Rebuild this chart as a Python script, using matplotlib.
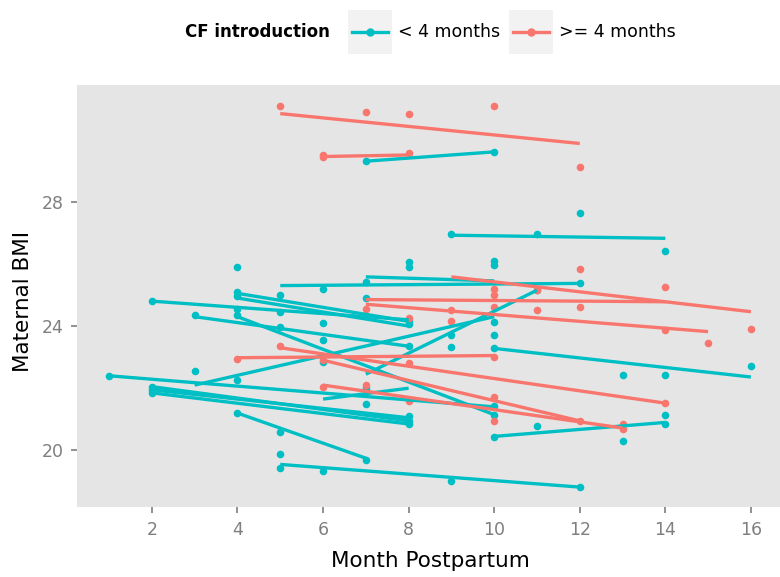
import matplotlib
matplotlib.use("Agg")
import matplotlib.pyplot as plt
from matplotlib.patches import Rectangle
from matplotlib.lines import Line2D

plt.rcParams['font.family'] = ['DejaVu Sans']

TEAL = '#00BFC4'
RED = '#F8766D'

# ---------------- data ----------------
group_labels = ['< 4 months', '>= 4 months']
legend_title = 'CF introduction'

# observed points (< 4 months)
teal_month = [1,
              2, 2, 2, 2,
              3, 3,
              4, 4, 4, 4, 4, 4, 4,
              5, 5, 5, 5, 5, 5,
              6, 6, 6, 6, 6,
              7, 7, 7, 7, 7, 7,
              8, 8, 8, 8, 8, 8, 8, 8,
              9, 9, 9, 9,
              10, 10, 10, 10, 10, 10, 10, 10, 10,
              11, 11, 11,
              12, 12, 12,
              13, 13,
              14, 14, 14, 14,
              16]
teal_bmi = [22.38,
            24.8, 22.05, 21.95, 21.85,
            24.35, 22.55,
            25.89, 25.1, 24.95, 24.55, 24.35, 22.27, 21.2,
            25.0, 24.45, 23.98, 20.6, 19.87, 19.45,
            25.2, 24.1, 23.55, 22.85, 19.33,
            29.3, 25.4, 24.9, 22.0, 21.5, 19.7,
            26.05, 25.9, 24.15, 24.05, 23.35, 21.1, 20.95, 20.85,
            26.95, 23.7, 23.34, 19.0,
            29.6, 26.1, 25.95, 24.14, 23.71, 23.28, 21.44, 21.15, 20.43,
            26.95, 25.15, 20.77,
            27.62, 25.37, 18.82,
            22.43, 20.3,
            26.4, 22.43, 21.13, 20.86,
            22.73]

# observed points (>= 4 months)
red_month = [4,
             5, 5,
             6, 6, 6, 6,
             7, 7, 7,
             8, 8, 8, 8, 8,
             9, 9,
             10, 10, 10, 10, 10, 10, 10,
             11, 11,
             12, 12, 12, 12,
             13, 13,
             14, 14, 14,
             15,
             16]
red_bmi = [22.95,
           31.08, 23.35,
           29.45, 29.5, 22.9, 22.05,
           30.89, 24.55, 22.1,
           30.83, 29.55, 24.25, 22.8, 21.6,
           24.53, 24.17,
           31.08, 25.2, 25.0, 24.6, 23.0, 21.73, 20.93,
           25.15, 24.53,
           29.1, 25.83, 24.62, 20.93,
           20.86, 20.69,
           25.25, 23.87, 21.52,
           23.46,
           23.9]

# per-subject fitted lines: start month, start BMI, end month, end BMI
teal_fit_m0 = [7, 9, 5, 7, 2, 4, 4, 3, 4, 10, 3, 7, 1, 2, 2, 2, 4, 5, 10, 6]
teal_fit_b0 = [29.3, 26.92, 25.3, 25.58, 24.8, 25.05, 24.9, 24.3, 24.3, 23.28,
               22.1, 22.45, 22.4, 22.05, 21.95, 21.85, 21.2, 19.55, 20.45, 21.65]
teal_fit_m1 = [10, 14, 12, 10, 8, 8, 8, 8, 10, 16, 10, 11, 10, 8, 8, 8, 7, 12, 14, 8]
teal_fit_b1 = [29.6, 26.82, 25.37, 25.45, 24.2, 24.15, 24.0, 23.35, 21.15, 22.36,
               24.3, 25.15, 21.4, 20.95, 21.05, 20.85, 19.75, 18.82, 20.9, 22.0]

red_fit_m0 = [5, 6, 9, 7, 7, 4, 5, 6, 6]
red_fit_b0 = [30.83, 29.45, 25.58, 24.85, 24.7, 22.98, 23.3, 22.1, 22.9]
red_fit_m1 = [12, 8, 16, 14, 15, 10, 14, 13, 12]
red_fit_b1 = [29.87, 29.5, 24.46, 24.78, 23.82, 23.05, 21.52, 20.72, 20.95]

x_ticks = [2, 4, 6, 8, 10, 12, 14, 16]
y_ticks = [20, 24, 28]

# ---------------- figure ----------------
W, H = 780, 577
fig = plt.figure(figsize=(W / 100, H / 100), dpi=100)
fig.patch.set_facecolor('white')

def fx(px):
    return px / W

def fy(py):
    return 1 - py / H

left, right, top, bottom = 77, 783, 85, 507
ax = fig.add_axes([fx(left), fy(bottom), (right - left) / W, (bottom - top) / H])
ax.set_facecolor('#E5E5E5')
for s in ax.spines.values():
    s.set_visible(False)

ax.scatter(teal_month, teal_bmi, s=30, color=TEAL, zorder=2, linewidths=0)
ax.scatter(red_month, red_bmi, s=30, color=RED, zorder=2, linewidths=0)

for m0, b0, m1, b1 in zip(teal_fit_m0, teal_fit_b0, teal_fit_m1, teal_fit_b1):
    ax.plot([m0, m1], [b0, b1], color=TEAL, lw=2.4, solid_capstyle='butt', zorder=3)
for m0, b0, m1, b1 in zip(red_fit_m0, red_fit_b0, red_fit_m1, red_fit_b1):
    ax.plot([m0, m1], [b0, b1], color=RED, lw=2.4, solid_capstyle='butt', zorder=3)

ax.set_xlim(0.25, 16.75)
ax.set_ylim(18.18, 31.75)
ax.set_xticks(x_ticks)
ax.set_yticks(y_ticks)
ax.tick_params(axis='both', colors='#7F7F7F', labelcolor='#7F7F7F',
               length=4.5, width=1.2, labelsize=12.5)
ax.tick_params(axis='x', pad=5.5)
ax.tick_params(axis='y', pad=5)
ax.grid(False)

fig.text(fx(430), fy(561), 'Month Postpartum', ha='center', va='center',
         fontsize=15.5, color='black')
fig.text(fx(23), fy(301), 'Maternal BMI', ha='center', va='center',
         rotation=90, fontsize=15.5, color='black')

# ---------------- legend ----------------
ly = 32
fig.text(fx(185), fy(ly), legend_title, ha='left', va='center',
         fontsize=12, fontweight='bold', color='black')
key_specs = [(348, TEAL, group_labels[0]), (509, RED, group_labels[1])]
for kx, col, lab in key_specs:
    fig.add_artist(Rectangle((fx(kx), fy(54)), 44 / W, 44 / H,
                             transform=fig.transFigure, facecolor='#F2F2F2',
                             edgecolor='none'))
    fig.add_artist(Line2D([fx(kx + 4), fx(kx + 40)], [fy(ly), fy(ly)],
                          transform=fig.transFigure, color=col, lw=2.4))
    fig.add_artist(Line2D([fx(kx + 22)], [fy(ly)], transform=fig.transFigure,
                          color=col, marker='o', markersize=5, lw=0))
    fig.text(fx(kx + 50), fy(ly), lab, ha='left', va='center',
             fontsize=12.5, color='black')

fig.savefig('out.png', dpi=100, facecolor='white')
